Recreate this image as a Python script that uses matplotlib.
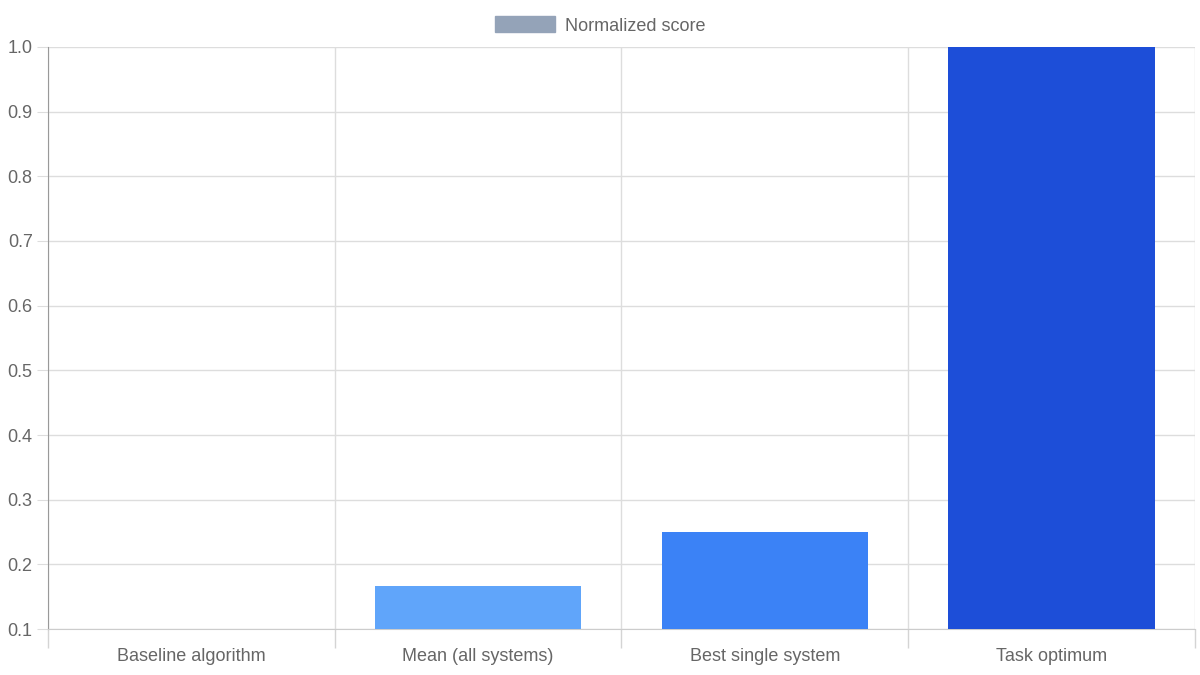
import matplotlib.pyplot as plt
import numpy as np

categories = ['Baseline algorithm', 'Mean (all systems)', 'Best single system', 'Task optimum']
scores = [0.1, 0.166, 0.25, 1.0]
bar_colors = ['#93c5fd', '#60a5fa', '#3b82f6', '#1d4ed8']
legend_label = 'Normalized score'
y_ticks = [0.1, 0.2, 0.3, 0.4, 0.5, 0.6, 0.7, 0.8, 0.9, 1.0]

plt.rcParams['font.family'] = ['Liberation Sans', 'DejaVu Sans']

fig = plt.figure(figsize=(12, 6.75), dpi=100)
ax = fig.add_axes([0.04, 0.0681, 0.9558, 0.8623])

x = np.arange(len(categories))
base = y_ticks[0]
ax.bar(x, np.array(scores) - base, bottom=base, width=0.72, color=bar_colors, zorder=3)

ax.set_xlim(-0.5, len(categories) - 0.5)
ax.set_ylim(0.1, 1.0)

# category labels in the middle, boundaries as ticks + grid
ax.set_xticks(x)
ax.set_xticklabels(categories)
ax.tick_params(axis='x', which='major', length=0, pad=14, labelsize=13, labelcolor='#666666')
ax.set_xticks(np.arange(len(categories) + 1) - 0.5, minor=True)
ax.tick_params(axis='x', which='minor', length=14, color='#d4d4d4', width=1)
ax.grid(True, axis='x', which='minor', color='#dddddd', linewidth=1, zorder=0)

ax.set_yticks(y_ticks)
ax.set_yticklabels(['%.1f' % t for t in y_ticks])
ax.tick_params(axis='y', length=8, color='#dddddd', labelsize=13, labelcolor='#666666', pad=3)
ax.grid(True, axis='y', color='#dddddd', linewidth=1, zorder=0)

for s in ['top', 'right']:
    ax.spines[s].set_visible(False)
ax.spines['left'].set_color('#999999')
ax.spines['bottom'].set_color('#cccccc')

# legend swatch (Chart.js style)
handle = plt.Rectangle((0, 0), 1, 1, color='#94a3b8')
fig.legend([handle], [legend_label], loc='upper center', bbox_to_anchor=(0.5, 1.0),
           frameon=False, fontsize=13, labelcolor='#666666',
           handlelength=3.3, handleheight=1.0, handletextpad=0.55)

fig.savefig('out.png', dpi=100)
